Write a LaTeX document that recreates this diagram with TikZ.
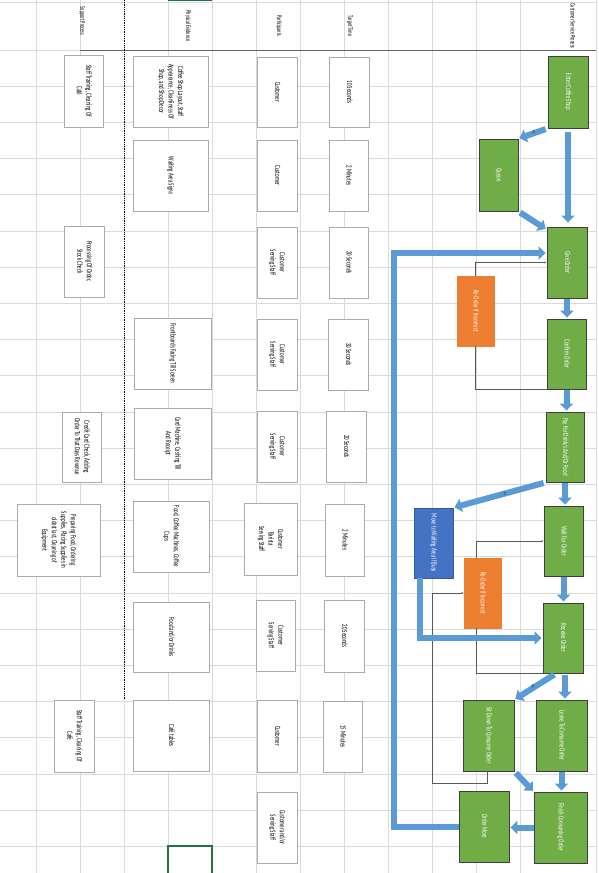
\documentclass[tikz,border=0pt]{standalone}
\usepackage{fontspec}
\usepackage{graphicx}
\setmainfont{Carlito}[FakeStretch=0.62]
\usetikzlibrary{arrows.meta}
\definecolor{grn}{HTML}{70AD47}
\definecolor{bluebox}{HTML}{4472C4}
\definecolor{orng}{HTML}{ED7D31}
\definecolor{arrb}{HTML}{5B9BD5}
\definecolor{gridc}{HTML}{DADADA}
\definecolor{boxedge}{HTML}{3F3F3F}
\definecolor{wedge}{HTML}{ABABAB}
\definecolor{thinc}{HTML}{595959}
\definecolor{selg}{HTML}{217346}
\newcommand{\rtx}[1]{\rotatebox[origin=c]{-90}{\begin{tabular}{@{}c@{}}#1\end{tabular}}}
\tikzset{
  gridline/.style={draw=gridc, line width=0.7pt},
  sz/.style 2 args={minimum width=#1pt, minimum height=#2pt},
  gbox/.style={draw=boxedge, line width=0.9pt, fill=grn, text=white, inner sep=0pt, font=\fontsize{8}{9.5}\selectfont},
  bbox/.style={gbox, fill=bluebox, draw=bluebox!80!black},
  obox/.style={gbox, fill=orng, draw=orng},
  wbox/.style={draw=wedge, line width=0.8pt, fill=white, inner sep=0pt, text=black, font=\fontsize{8}{9.5}\selectfont},
  barrow/.style={draw=arrb, line width=6pt, -{Triangle[width=13pt,length=7pt]}, shorten >=1pt},
  thinc/.style={draw=thinc, line width=0.8pt},
  head/.style={inner sep=0pt, text=black, font=\fontsize{7}{8}\selectfont},
  tiny/.style={inner sep=0pt, text=black, font=\fontsize{3.5}{4}\selectfont}
}
\begin{document}
\begin{tikzpicture}[x=1pt,y=-1pt]
\useasboundingbox (0,0) rectangle (599,873);
\fill[white] (0,0) rectangle (599,873);
% grid
\foreach \x in {36,80,124,168,212,256,300,344,388,432,476,520,596}
  \draw[gridline] (\x,0) -- (\x,873);
\foreach \i in {0,...,22}
  \draw[gridline] (0,{50+36.2*\i}) -- (596,{50+36.2*\i});
\draw[gridline] (0,2) -- (596,2);
\draw[line width=0.9pt, draw=gray!80!black] (80,50) -- (596,50);
\draw[line width=0.8pt, densely dotted] (124,0) -- (124,700);
\draw[line width=1.4pt, draw=selg] (168,873) -- (168,846) -- (212,846) -- (212,873);
\draw[line width=1.4pt, draw=selg] (168,0.7) -- (212,0.7);
% headers
\node[head] (h1) at (82,21) {\rotatebox{-90}{Support Process}};
\node[head] (h2) at (188,26) {\rotatebox{-90}{Physical Evidence}};
\node[head] (h3) at (279,26) {\rotatebox{-90}{Participants}};
\node[head] (h4) at (350,26) {\rotatebox{-90}{Target Time}};
\node[head] (h5) at (573,26) {\rotatebox{-90}{Customer Service Process}};
% support process
\node[wbox, sz={39}{72}] (s1) at (83.5,91) {\rtx{Staff Training, Cleaning Of\\Café}};
\node[wbox, sz={40}{71}] (s2) at (84,261.5) {\rtx{Processing Of Order,\\Stock Check}};
\node[wbox, sz={39}{70}] (s3) at (81.5,447) {\rtx{Credit Card Check, Adding\\Order To That Days Revenue}};
\node[wbox, sz={83}{72}] (s4) at (58.5,540) {\rtx{Preparing Food, Ordering\\Supplies, Placing Supplies in\\oldest last, Cleaning of\\Equipment}};
\node[wbox, sz={40}{72}] (s5) at (74,736) {\rtx{Staff Training, Cleaning Of\\Café}};
% physical evidence
\node[wbox, sz={75}{71}] (p1) at (170.5,91.5) {\rtx{Coffee Shop Layout, Staff\\Appearance, Cleanliness Of\\Shop, and Shop Decor}};
\node[wbox, sz={75}{71}] (p2) at (170.5,175.5) {\rtx{Waiting Area Signs}};
\node[wbox, sz={77}{71}] (p3) at (172.5,353.5) {\rtx{Frontboards Facing Till Screen}};
\node[wbox, sz={77}{71}] (p4) at (172.5,443.5) {\rtx{Card Machine, Cashing Till\\And Receipt}};
\node[wbox, sz={76}{71}] (p5) at (171,536.5) {\rtx{Food, Coffee Machines, Coffee\\Cups}};
\node[wbox, sz={76}{70}] (p6) at (171,637) {\rtx{Food and/or Drinks}};
\node[wbox, sz={76}{71}] (p7) at (171,735.5) {\rtx{Café tables}};
% participants
\node[wbox, sz={40}{70}] (r1) at (277,92) {\rtx{Customer}};
\node[wbox, sz={40}{71}] (r2) at (277,175.5) {\rtx{Customer}};
\node[wbox, sz={40}{71}] (r3) at (277,262.5) {\rtx{Customer\\Serving Staff}};
\node[wbox, sz={40}{71}] (r4) at (277,354.5) {\rtx{Customer\\Serving Staff}};
\node[wbox, sz={40}{71}] (r5) at (277,446.5) {\rtx{Customer\\Serving Staff}};
\node[wbox, sz={53}{72}] (r6) at (270.5,539) {\rtx{Customer\\Barista\\Serving Staff}};
\node[wbox, sz={39}{71}] (r7) at (275.5,635.5) {\rtx{Customer\\Serving Staff}};
\node[wbox, sz={40}{72}] (r8) at (277,736) {\rtx{Customer}};
\node[wbox, sz={40}{71}] (r9) at (277,827.5) {\rtx{Customer and/or\\Serving Staff}};
% target time
\node[wbox, sz={40}{70}] (t1) at (349,92) {\rtx{10 Seconds}};
\node[wbox, sz={39}{71}] (t2) at (348.5,175.5) {\rtx{2 Minutes}};
\node[wbox, sz={39}{71}] (t3) at (348.5,262.5) {\rtx{30 Seconds}};
\node[wbox, sz={40}{71}] (t4) at (348,354.5) {\rtx{30 Seconds}};
\node[wbox, sz={40}{71}] (t5) at (346,446.5) {\rtx{20 Seconds}};
\node[wbox, sz={39}{72}] (t6) at (344.5,540) {\rtx{2 Minutes}};
\node[wbox, sz={40}{72}] (t7) at (344,636) {\rtx{20 Seconds}};
\node[wbox, sz={39}{71}] (t8) at (342.5,736.5) {\rtx{15 Minutes}};
% main process
\node[gbox, sz={40}{72}] (enter) at (568,92) {\rtx{Enter Coffee Shop}};
\node[gbox, sz={39}{72}] (queue) at (498.5,175) {\rtx{Queue}};
\node[gbox, sz={40}{71}] (give) at (567,262.5) {\rtx{Give Order}};
\node[gbox, sz={39}{70}] (confirm) at (566.5,354) {\rtx{Confirm Order}};
\node[gbox, sz={38}{70}] (pay) at (565,447) {\rtx{Pay For Drink/s And/Or Food}};
\node[gbox, sz={39}{70}] (wait) at (563.5,541) {\rtx{Wait For Order}};
\node[gbox, sz={40}{70}] (receive) at (563,638) {\rtx{Receive Order}};
\node[gbox, sz={51}{71}] (leave) at (561.5,735.5) {\rtx{Leave To Consume Order}};
\node[gbox, sz={51}{71}] (sit) at (488.5,735.5) {\rtx{Sit Down To Consume Order}};
\node[gbox, sz={53}{71}] (finish) at (560.5,827.5) {\rtx{Finish Consuming Order}};
\node[gbox, sz={50}{71}] (more) at (484,826.5) {\rtx{Order More}};
\node[bbox, sz={39}{70}] (move) at (433.5,543) {\rtx{Move to Waiting Area If Busy}};
\node[obox, sz={37}{70}] (reo1) at (475.5,311) {\rtx{Re-Order If Incorrect}};
\node[obox, sz={37}{70}] (reo2) at (482.5,593) {\rtx{Re-Order If Incorrect}};
% thin connectors
\coordinate (c1) at (432,783);
\draw[thinc] (confirm.south west) -| (reo1.south);
\draw[thinc, -{Latex[length=2pt,width=2pt]}] (reo1.north) |- (give.west);
\draw[thinc] (receive.south west) -| ([xshift=-6.5pt]reo2.south);
\draw[thinc, -{Latex[length=2pt,width=2pt]}] ([xshift=-6.5pt]reo2.north) |- (wait.west);
\draw[thinc, -{Latex[length=2pt,width=2pt]}] ([xshift=-1.5pt]sit.south) |- (c1) |- (reo2.west);
% blue arrows
\coordinate (c2) at (394,253);
\draw[barrow, shorten <=4pt, shorten >=4pt] (enter.south) -- (enter.south |- give.north);
\draw[barrow, shorten <=2pt] (enter.south west) -- (queue.north east);
\draw[barrow, shorten <=2pt] (queue.south east) -- ([yshift=-3pt]give.north west);
\draw[barrow, shorten <=1pt] (give.south) -- (give.south |- confirm.north);
\draw[barrow, shorten <=1pt] (confirm.south) -- (confirm.south |- pay.north);
\draw[barrow, shorten <=1pt] (pay.south) -- (pay.south |- wait.north);
\draw[barrow, shorten <=2pt] (pay.south west) -- (move.north east);
\draw[barrow, shorten <=1pt] (wait.south) -- (wait.south |- receive.north);
\draw[barrow] ([xshift=6pt]move.south west) |- (receive.west);
\draw[barrow] (more.west) -| (c2) -- (c2 -| give.west);
\draw[barrow, shorten <=2pt] ([xshift=2pt]receive.south) -- ([xshift=2pt]receive.south |- leave.north);
\draw[barrow, shorten <=2pt] ([xshift=-7pt]receive.south) -- (sit.north east);
\draw[barrow, shorten <=1pt] (leave.south) -- (leave.south |- finish.north);
\draw[barrow, shorten <=2pt] (sit.south east) -- (finish.north west);
\draw[barrow] (finish.west) -- (finish.west -| more.east);
% tiny labels
\node[tiny] (l1) at (534,132) {\rotatebox{-90}{No}};
\node[tiny] (l2) at (505,494) {\rotatebox{-90}{No}};
\node[tiny] (l3) at (533,686) {\rotatebox{-90}{No}};
\end{tikzpicture}
\end{document}
